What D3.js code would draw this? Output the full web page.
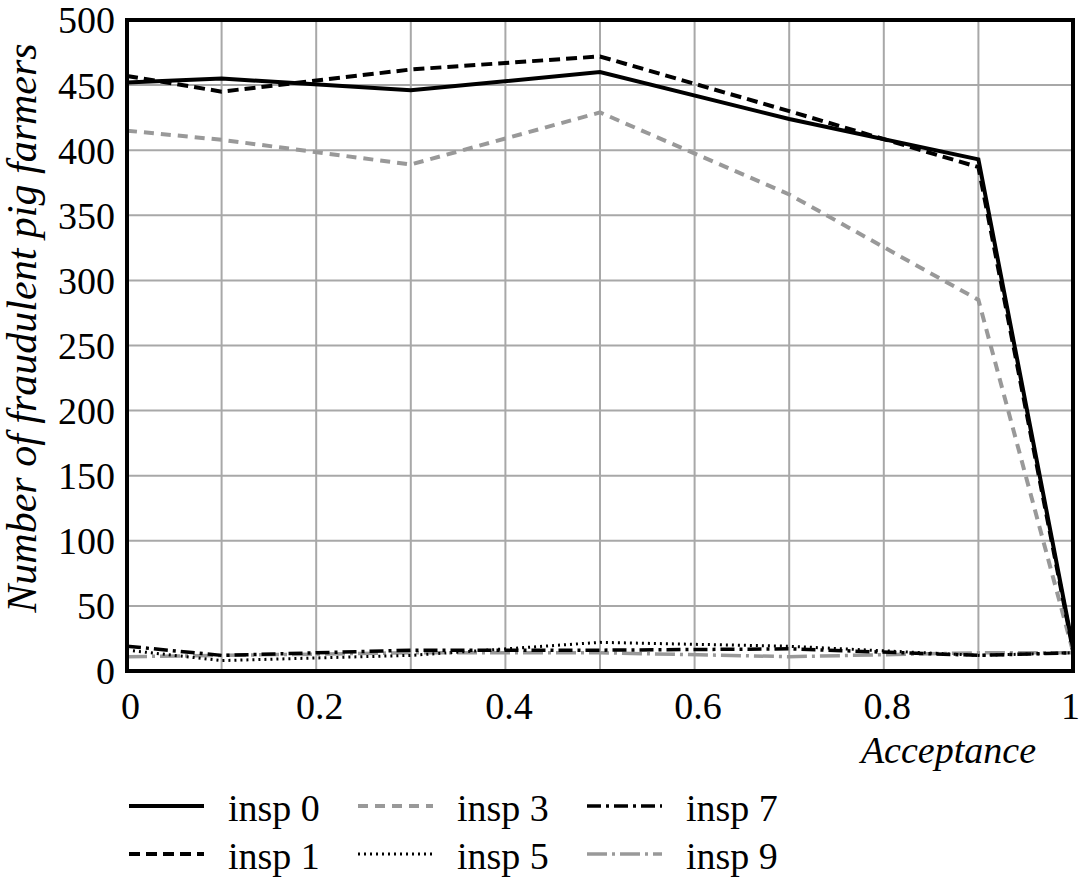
<!DOCTYPE html>
<html>
<head>
<meta charset="utf-8">
<script src="https://cdnjs.cloudflare.com/ajax/libs/d3/7.8.5/d3.min.js"></script>
<style>
    body {margin: 0; background: #fff;}
    #plot1 {width: 1083px; height: 882px;}
</style>
</head>
<body>
<div id="plot1"></div>
<script>
// data
var acceptance = [0, 0.1, 0.3, 0.5, 0.7, 0.9, 1];
var insp0 = [452, 455, 446, 460, 424, 393, 18];
var insp1 = [457, 445, 462, 472, 430, 387, 16];
var insp3 = [415, 408, 389, 429, 366, 285, 15];
var insp5 = [16, 8, 12, 22, 19, 12, 14];
var insp7 = [19, 12, 16, 16, 17, 12, 14];
var insp9 = [11, 12, 14, 14, 11, 14, 14];
var seriesNames = ["insp 0", "insp 1", "insp 3", "insp 5", "insp 7", "insp 9"];
var xTicks = [0, 0.2, 0.4, 0.6, 0.8, 1];
var yTicks = [0, 50, 100, 150, 200, 250, 300, 350, 400, 450, 500];

var black = "#000";
var grey = "#999";
var serif = "Liberation Serif";

// one style per series
var styles = [
    {color: black, dash: null, w: 4},
    {color: black, dash: "11,6", w: 4},
    {color: grey, dash: "10,7", w: 4},
    {color: black, dash: "2,4", w: 3},
    {color: black, dash: "14,5,3,5", w: 3.5},
    {color: grey, dash: "20,5,3,5", w: 3.5}
];

var series = [insp0, insp1, insp3, insp5, insp7, insp9].map(function(vals, i){
    return {name: seriesNames[i], style: styles[i], values: vals.map(function(v, j){return {x: acceptance[j], y: v}})};
});

var margin = {t: 20, r: 10, b: 211, l: 127};
var W = 1083, H = 882;
var width = W - margin.l - margin.r,
    height = H - margin.t - margin.b;

var svg = d3.select('#plot1')
    .append('svg')
    .attr('width', W)
    .attr('height', H)
    .style('font-family', serif);

var plot = svg.append('g').attr('transform', 'translate(' + margin.l + ',' + margin.t + ')');

var scaleX = d3.scaleLinear().domain([0, 1]).range([0, width]);
var scaleY = d3.scaleLinear().domain([0, 500]).range([height, 0]);

// grid
plot.append('g').selectAll('.vgrid')
    .data(d3.range(0, 11).map(function(i){return i / 10}))
    .enter().append('line')
    .attr('x1', function(d){return scaleX(d)})
    .attr('x2', function(d){return scaleX(d)})
    .attr('y1', 0).attr('y2', height)
    .style('stroke', '#a8a8a8').style('stroke-width', 2);

plot.append('g').selectAll('.hgrid')
    .data(yTicks)
    .enter().append('line')
    .attr('y1', function(d){return scaleY(d)})
    .attr('y2', function(d){return scaleY(d)})
    .attr('x1', 0).attr('x2', width)
    .style('stroke', '#a8a8a8').style('stroke-width', 2);

// axes, only the labels are kept
var xAxis = plot.append('g')
    .attr('transform', 'translate(0,' + height + ')')
    .call(d3.axisBottom(scaleX).tickValues(xTicks).tickSize(0).tickPadding(21).tickFormat(d3.format('')));
var yAxis = plot.append('g')
    .call(d3.axisLeft(scaleY).tickValues(yTicks).tickSize(0).tickPadding(12));
[xAxis, yAxis].forEach(function(a){
    a.select('.domain').remove();
    a.attr('font-family', serif).attr('font-size', 38);
    a.selectAll('text').style('font-size', '38px').style('font-family', serif).style('fill', '#000');
});
xAxis.selectAll('text').attr('dy', '0.71em').attr('dx', function(d){return d === 1 ? -3 : 3});
yAxis.selectAll('text').attr('dy', '0.34em');

// lines
var line = d3.line()
    .x(function(d){return scaleX(d.x)})
    .y(function(d){return scaleY(d.y)});

plot.selectAll('.series')
    .data(series.slice().reverse())
    .enter().append('path')
    .attr('class', 'series')
    .attr('d', function(d){return line(d.values)})
    .style('fill', 'none')
    .style('stroke', function(d){return d.style.color})
    .style('stroke-width', function(d){return d.style.w})
    .style('stroke-dasharray', function(d){return d.style.dash});

// frame
plot.append('rect')
    .attr('width', width).attr('height', height)
    .style('fill', 'none').style('stroke', '#000').style('stroke-width', 4);

// axis titles
svg.append('text')
    .attr('transform', 'translate(36,' + (margin.t + 308) + ') rotate(-90)')
    .attr('text-anchor', 'middle')
    .style('font-family', serif)
    .style('font-size', '42px').style('font-style', 'italic')
    .text('Number of fraudulent pig farmers');

svg.append('text')
    .attr('x', 1036).attr('y', 763)
    .attr('text-anchor', 'end')
    .style('font-family', serif)
    .style('font-size', '38px').style('font-style', 'italic')
    .text('Acceptance');

// legend, 3 columns x 2 rows
var legend = svg.append('g').selectAll('.leg')
    .data(series)
    .enter().append('g')
    .attr('transform', function(d, i){
        var col = Math.floor(i / 2), row = i % 2;
        return 'translate(' + (129 + col * 229) + ',' + (806 + row * 48) + ')';
    });

legend.append('line')
    .attr('x1', 0).attr('x2', 75)
    .style('stroke', function(d){return d.style.color})
    .style('stroke-width', function(d){return d.style.w})
    .style('stroke-dasharray', function(d){return d.style.dash});

legend.append('text')
    .attr('x', 99).attr('y', 15)
    .style('font-family', serif)
    .style('font-size', '38px')
    .text(function(d){return d.name});
</script>
</body>
</html>
